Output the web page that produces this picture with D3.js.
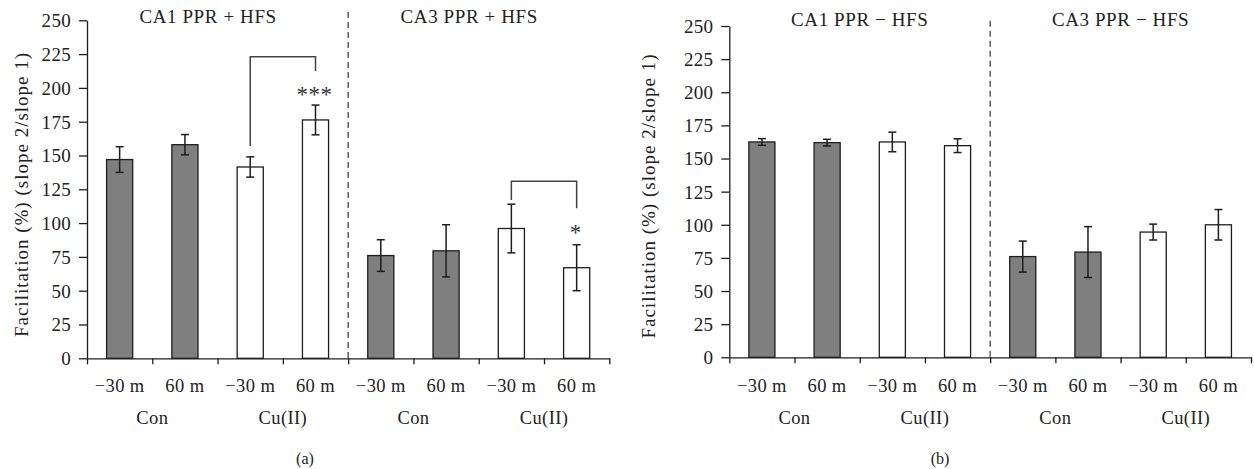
<!DOCTYPE html>
<html>
<head>
<meta charset="utf-8">
<script src="https://cdn.jsdelivr.net/npm/d3@7"></script>
<style>
  html, body { margin: 0; padding: 0; background: #fff; }
  svg { display: block; }
</style>
</head>
<body>
<svg id="chart" width="1254" height="469"></svg>
<script>
// Paired-pulse facilitation, CA1 and CA3, with and without HFS
const timepoints = ["\u221230 m", "60 m", "\u221230 m", "60 m", "\u221230 m", "60 m", "\u221230 m", "60 m"];
const treatments = ["Con", "Con", "Cu(II)", "Cu(II)", "Con", "Con", "Cu(II)", "Cu(II)"];
const groupLabels = ["Con", "Cu(II)", "Con", "Cu(II)"];
const yTicks = [0, 25, 50, 75, 100, 125, 150, 175, 200, 225, 250];

const titlesA = ["CA1 PPR + HFS", "CA3 PPR + HFS"];
const meanA = [147, 158, 141.5, 176.3, 76, 79.5, 96, 67];
const semA = [9.5, 7.5, 7.5, 11, 11.7, 19.3, 18, 17];
const sigA = [
  { from: 2, to: 3, top: 223, leftEnd: 157, rightEnd: 212.5, label: "***", at: 197.5 },
  { from: 6, to: 7, top: 131, leftEnd: 117, rightEnd: 111, label: "*", at: 95 }
];

const titlesB = ["CA1 PPR \u2212 HFS", "CA3 PPR \u2212 HFS"];
const meanB = [162.5, 162, 162.5, 159.7, 76, 79.4, 94.5, 100];
const semB = [2.5, 2.5, 7.4, 5.2, 11.7, 19.2, 6, 11.5];
const sigB = [];

const svg = d3.select("#chart");
const ink = "#1e1e1e";
const serif = "'Liberation Serif', 'Times New Roman', 'DejaVu Serif', serif";

// shared text styling, applied inline so it wins over axis defaults
function textStyle(sel, size, spacing) {
  return sel.style("font-family", serif)
    .style("font-size", size + "px")
    .style("letter-spacing", spacing + "px")
    .style("fill", "#222");
}

function panel(opt) {
  const g = svg.append("g");
  const idx = d3.range(timepoints.length);
  const x = d3.scaleBand().domain(idx).range([opt.x0, opt.x1]).paddingInner(0).paddingOuter(0);
  const xEdge = d3.scaleLinear().domain([0, idx.length]).range([opt.x0, opt.x1]);
  const y = d3.scaleLinear().domain([0, 250]).range([opt.y0, opt.y1]);
  const barW = x.bandwidth() * 0.4;

  // y axis
  const ya = g.append("g").attr("transform", `translate(${opt.x0},0)`)
    .call(d3.axisLeft(y).tickValues(yTicks).tickSize(8).tickSizeOuter(0).tickPadding(8));
  ya.select(".domain").attr("stroke", ink).attr("stroke-width", 1.3);
  ya.selectAll(".tick line").attr("stroke", ink).attr("stroke-width", 1.3);
  textStyle(ya.selectAll(".tick text"), 19, 0.3).attr("dy", "0.34em");

  // bars
  g.selectAll("rect.bar").data(idx).join("rect")
    .attr("class", "bar")
    .attr("x", i => x(i) + (x.bandwidth() - barW) / 2)
    .attr("width", barW)
    .attr("y", i => y(opt.mean[i]))
    .attr("height", i => y(0) - y(opt.mean[i]))
    .attr("fill", i => treatments[i] === "Con" ? "#7f7f7f" : "#ffffff")
    .attr("stroke", ink).attr("stroke-width", 1.3);

  // error bars
  const cap = 4;
  const cx = i => x(i) + x.bandwidth() / 2;
  const eb = g.selectAll("g.err").data(idx).join("g").attr("class", "err")
    .attr("stroke", ink).attr("stroke-width", 1.5);
  eb.append("line")
    .attr("x1", cx).attr("x2", cx)
    .attr("y1", i => y(opt.mean[i] + opt.sem[i])).attr("y2", i => y(opt.mean[i] - opt.sem[i]));
  eb.append("line")
    .attr("x1", i => cx(i) - cap).attr("x2", i => cx(i) + cap)
    .attr("y1", i => y(opt.mean[i] + opt.sem[i])).attr("y2", i => y(opt.mean[i] + opt.sem[i]));
  eb.append("line")
    .attr("x1", i => cx(i) - cap).attr("x2", i => cx(i) + cap)
    .attr("y1", i => y(opt.mean[i] - opt.sem[i])).attr("y2", i => y(opt.mean[i] - opt.sem[i]));

  // x axis with ticks at band edges
  const xa = g.append("g").attr("transform", `translate(0,${opt.y0})`)
    .call(d3.axisBottom(xEdge).tickValues(d3.range(idx.length + 1)).tickSize(6).tickSizeOuter(0).tickFormat(""));
  xa.select(".domain").attr("stroke", ink).attr("stroke-width", 1.3);
  xa.selectAll(".tick line").attr("stroke", ink).attr("stroke-width", 1.3);

  // divider between CA1 and CA3
  g.append("line")
    .attr("x1", xEdge(4)).attr("x2", xEdge(4))
    .attr("y1", opt.dashTop).attr("y2", opt.y0)
    .attr("stroke", "#444").attr("stroke-width", 1.3).attr("stroke-dasharray", "6,4");

  // time labels and group labels
  textStyle(g.selectAll("text.tp").data(idx).join("text").attr("class", "tp")
    .attr("x", cx).attr("y", 392)
    .attr("text-anchor", "middle")
    .text(i => timepoints[i]), 18.5, 0.4);
  textStyle(g.selectAll("text.grp").data(groupLabels).join("text").attr("class", "grp")
    .attr("x", (d, k) => xEdge(2 * k + 1)).attr("y", 424)
    .attr("text-anchor", "middle")
    .text(d => d), 18.5, 0.4);

  // region titles
  textStyle(g.selectAll("text.title").data(opt.titles).join("text").attr("class", "title")
    .attr("x", (d, k) => xEdge(4 * k + 2) + opt.titleShift).attr("y", opt.titleY)
    .attr("text-anchor", "middle")
    .text(d => d), 19, 0.6);

  // y axis title
  const yc = (opt.labelTop + opt.labelBottom) / 2;
  textStyle(g.append("text")
    .attr("transform", `translate(${opt.labelX},${yc}) rotate(-90)`)
    .attr("text-anchor", "middle").attr("dy", "0.35em")
    .text("Facilitation (%) (slope 2/slope 1)"), 19, 1);

  // significance brackets
  opt.sig.forEach(s => {
    const xl = cx(s.from), xr = cx(s.to);
    g.append("path")
      .attr("d", `M${xl},${y(s.leftEnd)}V${y(s.top)}H${xr}V${y(s.rightEnd)}`)
      .attr("fill", "none").attr("stroke", "#444").attr("stroke-width", 1.5);
    textStyle(g.append("text")
      .attr("x", xr - 1).attr("y", y(s.at) + 10.5)
      .attr("text-anchor", "middle")
      .text(s.label), 23, 0.5).style("fill", "#333");
  });

  // panel tag
  textStyle(svg.append("text").attr("x", opt.tagX).attr("y", 464)
    .attr("text-anchor", "middle").text(opt.tag), 16, 0);
}

panel({
  x0: 87, x1: 609.3, y0: 358.3, y1: 20.3, dashTop: 12,
  mean: meanA, sem: semA, sig: sigA, titles: titlesA,
  titleShift: -9.5, titleY: 23, labelX: 21, labelTop: 47, labelBottom: 342,
  tag: "(a)", tagX: 305
});
panel({
  x0: 729.3, x1: 1251, y0: 357.3, y1: 26, dashTop: 20.7,
  mean: meanB, sem: semB, sig: sigB, titles: titlesB,
  titleShift: 0, titleY: 26, labelX: 648, labelTop: 50, labelBottom: 342,
  tag: "(b)", tagX: 940
});
</script>
</body>
</html>
